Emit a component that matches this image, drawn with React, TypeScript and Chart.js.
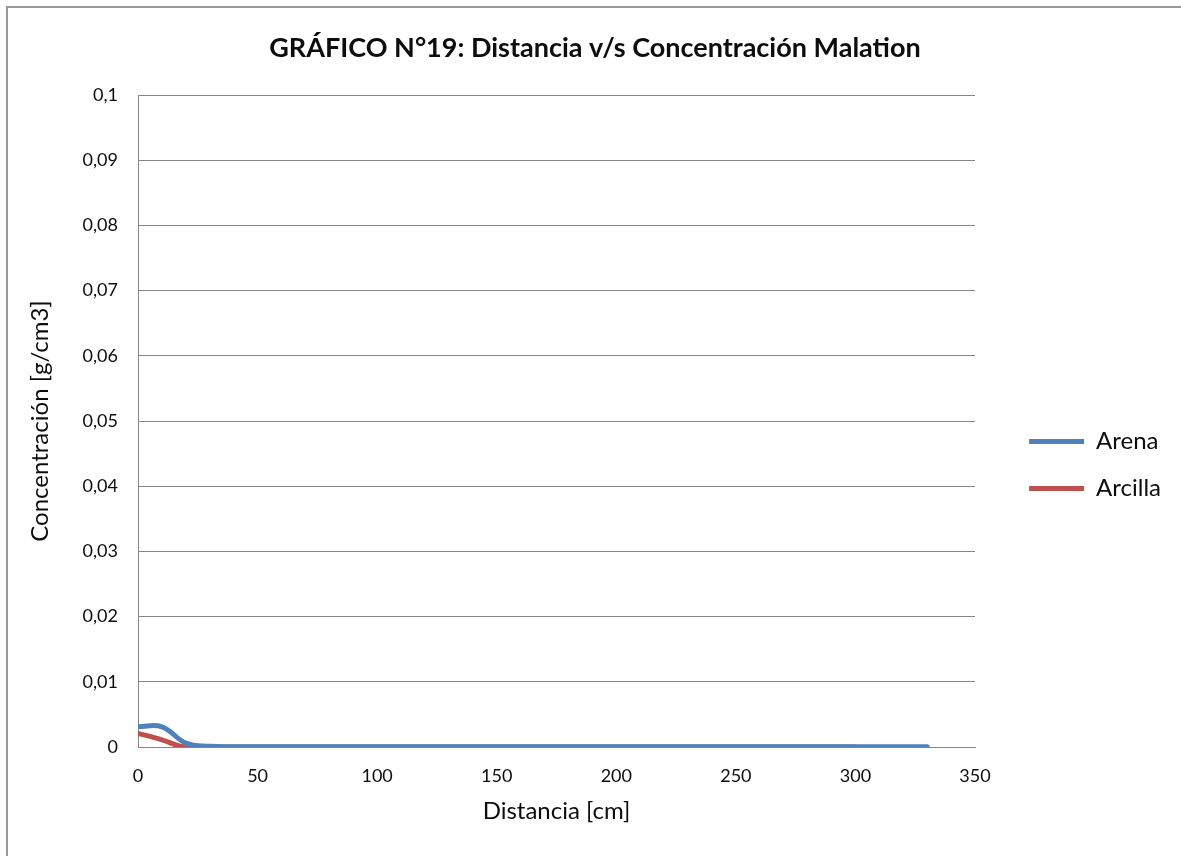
import React, { useEffect, useRef } from "react";
import { Chart, registerables } from "chart.js";

Chart.register(...registerables);

// ---------- data ----------
const distanciaArena = [0, 10, 20, 30, 40, 50, 60, 70, 80, 90, 100, 110, 120, 130, 140, 150, 160, 170, 180, 190, 200, 210, 220, 230, 240, 250, 260, 270, 280, 290, 300, 310, 320, 330];
const concArena = [0.0031, 0.0031, 0.0006, 0.0001, 0.00004, 0.00003, 0.00003, 0.00003, 0.00003, 0.00003, 0.00003, 0.00003, 0.00003, 0.00003, 0.00003, 0.00003, 0.00003, 0.00003, 0.00003, 0.00003, 0.00003, 0.00003, 0.00003, 0.00003, 0.00003, 0.00003, 0.00003, 0.00003, 0.00003, 0.00003, 0.00003, 0.00003, 0.00003, 0.00003];

const distanciaArcilla = [0, 10, 20, 30, 40, 50, 60, 70, 80, 90, 100, 110, 120, 130, 140, 150, 160, 170, 180, 190, 200, 210, 220, 230, 240, 250, 260, 270, 280, 290, 300];
const concArcilla = [0.0021, 0.0011, 0, 0, 0, 0, 0, 0, 0, 0, 0, 0, 0, 0, 0, 0, 0, 0, 0, 0, 0, 0, 0, 0, 0, 0, 0, 0, 0, 0, 0];

const seriesNames = ["Arena", "Arcilla"];
const seriesColors = ["#4F81BD", "#C0504D"];

const yTickValues = [0, 0.01, 0.02, 0.03, 0.04, 0.05, 0.06, 0.07, 0.08, 0.09, 0.1];
const yTickLabels = ["0", "0,01", "0,02", "0,03", "0,04", "0,05", "0,06", "0,07", "0,08", "0,09", "0,1"];
const xTickValues = [0, 50, 100, 150, 200, 250, 300, 350];
const xTickLabels = ["0", "50", "100", "150", "200", "250", "300", "350"];

const chartTitle = "GRÁFICO N°19: Distancia v/s Concentración Malation";
const xTitle = "Distancia [cm]";
const yTitle = "Concentración [g/cm3]";

// ---------- layout constants ----------
const CW = 1181;
const CH = 856;
const FONT = "Lato, 'Open Sans', sans-serif";
const TEXT = "#0d0d0d";
const GRID = "#868686";
const PAD = { left: 19, right: 10, top: 8, bottom: 22 };
const PLOT_LEFT = 138;
const PLOT_RIGHT = 975;

const borderPlugin = {
  id: "outerBorder",
  beforeDraw(chart: any) {
    const ctx = chart.ctx;
    ctx.save();
    ctx.fillStyle = "#ffffff";
    ctx.fillRect(0, 0, chart.width, chart.height);
    ctx.fillStyle = "#9a9a9a";
    ctx.fillRect(6, 6, chart.width, 2);
    ctx.fillRect(6, 6, 2, chart.height);
    ctx.restore();
  },
};

export default function App() {
  const ref = useRef<HTMLCanvasElement | null>(null);

  useEffect(() => {
    if (!ref.current) return;
    const chart = new Chart(ref.current, {
      type: "line",
      data: {
        datasets: [
          {
            label: seriesNames[0],
            data: distanciaArena.map((x, i) => ({ x, y: concArena[i] })),
            borderColor: seriesColors[0],
            backgroundColor: seriesColors[0],
            borderWidth: 5,
            borderCapStyle: "round",
            pointRadius: 0,
            tension: 0.4,
            fill: false,
          },
          {
            label: seriesNames[1],
            data: distanciaArcilla.map((x, i) => ({ x, y: concArcilla[i] })),
            borderColor: seriesColors[1],
            backgroundColor: seriesColors[1],
            borderWidth: 5,
            borderCapStyle: "round",
            pointRadius: 0,
            cubicInterpolationMode: "monotone",
            fill: false,
          },
        ],
      },
      options: {
        responsive: false,
        animation: false,
        devicePixelRatio: 1,
        layout: { padding: PAD },
        plugins: {
          tooltip: { enabled: false },
          title: {
            display: true,
            text: chartTitle,
            color: TEXT,
            font: { family: FONT, size: 27, weight: "bold", lineHeight: 1.2 },
            padding: { top: 23.8, bottom: 30.8 },
          },
          legend: {
            display: true,
            position: "right",
            align: "center",
            title: {
              display: true,
              text: "",
              font: { family: FONT, size: 10, lineHeight: 1 },
              padding: { top: 78, bottom: 0 },
            },
            labels: {
              usePointStyle: true,
              pointStyle: "line",
              pointStyleWidth: 55,
              color: TEXT,
              font: { family: FONT, size: 24 },
              padding: 23,
            },
          },
        },
        scales: {
          x: {
            type: "linear",
            position: "bottom",
            min: 0,
            max: 350,
            afterBuildTicks: (s: any) => {
              s.ticks = xTickValues.map((v) => ({ value: v }));
            },
            afterFit: (s: any) => {
              s.height = 87;
            },
            grid: { display: false, drawTicks: false },
            border: { display: true, color: GRID, width: 1 },
            ticks: {
              color: TEXT,
              font: { family: FONT, size: 18 },
              padding: 18,
              maxRotation: 0,
              autoSkip: false,
              callback: (v: any) => {
                const i = xTickValues.indexOf(Number(v));
                return i >= 0 ? xTickLabels[i] : "";
              },
            },
            title: {
              display: true,
              text: xTitle,
              color: TEXT,
              font: { family: FONT, size: 24, lineHeight: 1.2 },
              padding: { top: 0, bottom: 8.6 },
            },
          },
          y: {
            type: "linear",
            position: "left",
            min: 0,
            max: 0.1,
            afterBuildTicks: (s: any) => {
              s.ticks = yTickValues.map((v) => ({ value: v }));
            },
            afterFit: (s: any) => {
              s.width = PLOT_LEFT - PAD.left;
            },
            grid: { display: true, color: GRID, lineWidth: 1, drawTicks: false },
            border: { display: true, color: GRID, width: 1 },
            ticks: {
              color: TEXT,
              font: { family: FONT, size: 18 },
              padding: 20,
              autoSkip: false,
              callback: (v: any) => {
                const i = yTickValues.findIndex((t) => Math.abs(t - Number(v)) < 1e-9);
                return i >= 0 ? yTickLabels[i] : "";
              },
            },
            title: {
              display: true,
              text: yTitle,
              color: TEXT,
              font: { family: FONT, size: 24, lineHeight: 1.2 },
              padding: { top: 40 - PAD.left - 14.4, bottom: 0 },
            },
          },
          gap: {
            type: "linear",
            position: "right",
            display: true,
            grid: { display: false, drawTicks: false },
            border: { display: false },
            ticks: { display: false },
            afterFit: (s: any) => {
              const lw = s.chart.legend ? s.chart.legend.width : 170;
              s.width = Math.max(0, CW - PAD.right - lw - PLOT_RIGHT);
            },
          },
        },
      } as any,
      plugins: [borderPlugin],
    });
    return () => chart.destroy();
  }, []);

  return (
    <div
      style={{
        position: "fixed",
        left: 0,
        top: 0,
        width: CW,
        height: CH,
        overflow: "hidden",
        background: "#ffffff",
      }}
    >
      <canvas ref={ref} width={CW} height={CH} style={{ display: "block", width: CW, height: CH }} />
    </div>
  );
}
